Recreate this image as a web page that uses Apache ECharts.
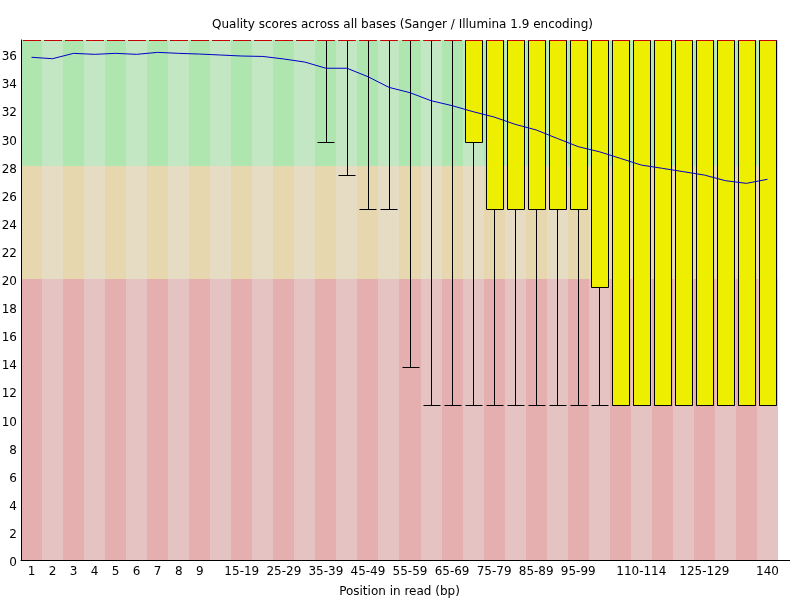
<!DOCTYPE html>
<html>
<head>
<meta charset="utf-8">
<script src="https://cdn.jsdelivr.net/npm/echarts@6/dist/echarts.min.js"></script>
<style>html,body{margin:0;padding:0;background:#fff}#c{width:800px;height:600px}</style>
</head>
<body>
<div id="c"></div>
<script>
const categories = ['1','2','3','4','5','6','7','8','9','10-14','15-19','20-24','25-29','30-34','35-39','40-44','45-49','50-54','55-59','60-64','65-69','70-74','75-79','80-84','85-89','90-94','95-99','100-104','105-109','110-114','115-119','120-124','125-129','130-134','135-139','140'];
const shownLabels = ['1','2','3','4','5','6','7','8','9','15-19','25-29','35-39','45-49','55-59','65-69','75-79','85-89','95-99','110-114','125-129','140'];
const meanQ = [35.77,35.67,36.05,35.98,36.05,35.98,36.12,36.05,36.0,35.93,35.86,35.83,35.65,35.43,34.99,34.99,34.39,33.63,33.25,32.68,32.33,31.9,31.52,31.0,30.6,30.0,29.41,29.05,28.58,28.1,27.87,27.63,27.39,26.99,26.8,27.09];
const medianQ = [37,37,37,37,37,37,37,37,37,37,37,37,37,37,37,37,37,37,37,37,37,37,37,37,37,37,37,37,37,37,37,37,37,37,37,37];
const upperQuartile = [37,37,37,37,37,37,37,37,37,37,37,37,37,37,37,37,37,37,37,37,37,37,37,37,37,37,37,37,37,37,37,37,37,37,37,37];
const lowerQuartile = [37,37,37,37,37,37,37,37,37,37,37,37,37,37,37,37,37,37,37,37,37,29.75,25,25,25,25,25,19.4,11,11,11,11,11,11,11,11];
const pct90 = [37,37,37,37,37,37,37,37,37,37,37,37,37,37,37,37,37,37,37,37,37,37,37,37,37,37,37,37,37,37,37,37,37,37,37,37];
const pct10 = [37,37,37,37,37,37,37,37,37,37,37,37,37,37,29.75,27.4,25,25,13.75,11,11,11,11,11,11,11,11,11,11,11,11,11,11,11,11,11];
const yTicks = [0,2,4,6,8,10,12,14,16,18,20,22,24,26,28,30,32,34,36];
const yMax = 37;
const badLimit = 20, okLimit = 28;

const bgColors = {
  good: ['rgb(175,230,175)','rgb(195,230,195)'],
  ok: ['rgb(230,215,175)','rgb(230,220,195)'],
  bad: ['rgb(230,175,175)','rgb(230,195,195)']
};

const chart = echarts.init(document.getElementById('c'), null, {renderer:'canvas'});

function renderBg(params, api) {
  const i = api.value(0);
  const w = api.size([1, 0])[0];
  const k = i % 2;
  const zones = [[0, badLimit, bgColors.bad[k]], [badLimit, okLimit, bgColors.ok[k]], [okLimit, yMax, bgColors.good[k]]];
  const children = zones.map(z => {
    const p1 = api.coord([i, z[1]]);
    const p0 = api.coord([i, z[0]]);
    const x0 = Math.round(p1[0] - w / 2), x1 = Math.round(p1[0] + w / 2);
    const y0 = Math.round(p1[1]), y1 = Math.round(p0[1]);
    return {type: 'rect', shape: {x: x0, y: y0, width: x1 - x0, height: y1 - y0}, style: {fill: z[2]}, silent: true};
  });
  return {type: 'group', children};
}

function renderBox(params, api) {
  const i = api.value(0);
  const band = api.size([1, 0])[0];
  const bw = Math.round(band * 0.8);
  const cx = api.coord([i, 0])[0];
  const xl = Math.round(cx - bw / 2) + 0.5;
  const xr = xl + bw;
  const xm = Math.round(cx) + 0.5;
  const Y = v => Math.round(api.coord([i, v])[1]) + 0.5;
  const yLo = Y(api.value(1)), yQ1 = Y(api.value(2)), yMed = Y(api.value(3)), yQ3 = Y(api.value(4)), yHi = Y(api.value(5));
  const black = {stroke: '#000', lineWidth: 1};
  const children = [];
  children.push({type: 'line', shape: {x1: xm, y1: yQ1, x2: xm, y2: yLo}, style: black});
  children.push({type: 'line', shape: {x1: xm, y1: yQ3, x2: xm, y2: yHi}, style: black});
  children.push({type: 'line', shape: {x1: xl, y1: yLo, x2: xr, y2: yLo}, style: black});
  children.push({type: 'line', shape: {x1: xl, y1: yHi, x2: xr, y2: yHi}, style: black});
  if (yQ1 - yQ3 > 0.5) {
    children.push({type: 'rect', shape: {x: xl, y: yQ3, width: bw, height: yQ1 - yQ3}, style: {fill: 'rgb(238,238,0)', stroke: '#000', lineWidth: 1}});
  }
  children.push({type: 'line', shape: {x1: xl, y1: yMed, x2: xr, y2: yMed}, style: {stroke: 'rgb(200,0,0)', lineWidth: 1}});
  return {type: 'group', children};
}

const bgData = categories.map((c, i) => [i, 0]);
const boxData = categories.map((c, i) => [i, pct10[i], lowerQuartile[i], medianQ[i], upperQuartile[i], pct90[i]]);
const font = 'DejaVu Sans';

chart.setOption({
  animation: false,
  backgroundColor: '#fff',
  title: {
    text: 'Quality scores across all bases (Sanger / Illumina 1.9 encoding)',
    left: 207, top: 14,
    textStyle: {fontFamily: font, fontSize: 12, fontWeight: 'normal', color: '#000'}
  },
  grid: {left: 21, right: 22, top: 40, bottom: 40, outerBoundsMode: 'none', containLabel: false},
  xAxis: {
    type: 'category', data: categories, boundaryGap: true,
    axisTick: {show: false},
    axisLine: {lineStyle: {color: '#000', width: 1}},
    axisLabel: {
      interval: (idx, val) => shownLabels.includes(val),
      fontFamily: font, fontSize: 12, color: '#000', margin: 6
    },
    name: 'Position in read (bp)', nameLocation: 'middle', nameGap: 26,
    nameTextStyle: {fontFamily: font, fontSize: 12, color: '#000'},
    splitLine: {show: false}
  },
  yAxis: {
    type: 'value', min: 0, max: yMax, interval: 2,
    axisLine: {show: true, lineStyle: {color: '#000', width: 1}},
    axisTick: {show: false},
    splitLine: {show: false},
    axisLabel: {
      fontFamily: font, fontSize: 12, color: '#000', margin: 4,
      showMaxLabel: false, verticalAlign: 'top', lineHeight: 12, padding: [-3, 0, 0, 0],
      formatter: v => yTicks.includes(v) ? String(v) : ''
    }
  },
  graphic: [{
    type: 'line', shape: {x1: 21, y1: 560.5, x2: 790, y2: 560.5},
    style: {stroke: '#000', lineWidth: 1}, z: 100, silent: true
  }],
  series: [
    {type: 'custom', renderItem: renderBg, data: bgData, encode: {x: 0, y: 1}, z: 0, silent: true, clip: true},
    {type: 'custom', renderItem: renderBox, data: boxData, encode: {x: 0, y: [1, 2, 3, 4, 5]}, z: 2, silent: true},
    {type: 'line', data: meanQ, symbol: 'none', lineStyle: {color: 'rgb(0,0,200)', width: 1}, z: 3, silent: true}
  ]
});
</script>
</body>
</html>
